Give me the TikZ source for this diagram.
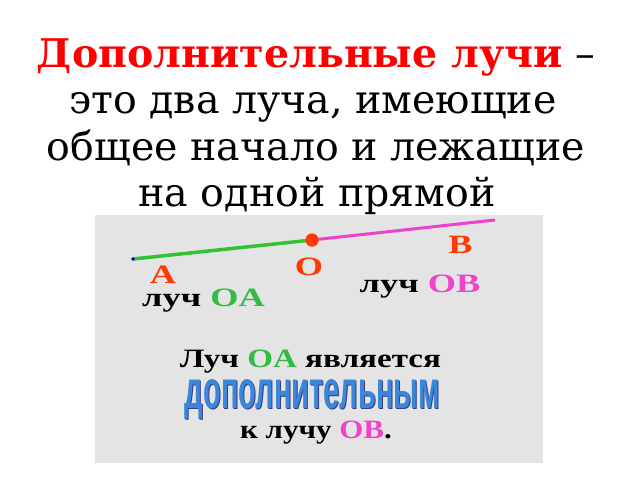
\documentclass[tikz,border=0pt]{standalone}
\usepackage{fontspec}
\setmainfont{DejaVu Serif}
\newfontfamily\timesb{Liberation Serif}[BoldFont={* Bold}]
\newfontfamily\narrowsans{Liberation Sans}
\definecolor{titlered}{HTML}{FF0000}
\definecolor{lblred}{HTML}{FF3A00}
\definecolor{raygreen}{HTML}{33C233}
\definecolor{txtgreen}{HTML}{33BB44}
\definecolor{raymag}{HTML}{F040D0}
\definecolor{txtmag}{HTML}{EE44CC}
\definecolor{bggray}{HTML}{E4E4E4}
\definecolor{waBlue}{HTML}{3A86DA}
\definecolor{waShadow}{HTML}{3A3F80}
\newcommand{\widelbl}[1]{\scalebox{1.37}[1]{#1}}
\newcommand{\wordart}{\scalebox{1.21}[2.24]{\narrowsans\bfseries\fontsize{24}{24}\selectfont дополнительным}}
\begin{document}
\begin{tikzpicture}[x=1pt,y=-1pt,
  titletext/.style={font=\fontsize{39.5}{44}\selectfont, anchor=base, inner sep=0pt},
  lbl/.style={font=\timesb\bfseries\fontsize{26.5}{30}\selectfont, anchor=base, inner sep=0pt},
  pointlbl/.style={lbl, text=lblred}]
\useasboundingbox (0,0) rectangle (640,480);
\fill[white] (0,0) rectangle (640,480);
% title
\node[titletext] (t1) at (316,67) {\textcolor{titlered}{\bfseries Дополнительные лучи} –};
\node[titletext] (t2) at (313,113) {это два луча, имеющие};
\node[titletext] (t3) at (316,160) {общее начало и лежащие};
\node[titletext] (t4) at (317,206) {на одной прямой};
% background panel
\fill[bggray] (95,215) rectangle (543,463);
% rays
\coordinate (A) at (133,259);
\coordinate (B) at (495,220);
\node[circle, fill=lblred, inner sep=0pt, minimum size=13pt] (O) at (312,240) {};
\draw[raygreen, line width=3.5pt] (A) -- (O.center);
\draw[raymag, line width=3pt] (O.center) -- (B);
\fill[blue!70!black] (A) circle (1.8pt);
\node[circle, fill=lblred, inner sep=0pt, minimum size=13pt] at (O) {};
% point labels
\node[pointlbl] (lA) at (163,283) {\widelbl{A}};
\node[pointlbl] (lO) at (309,275) {\widelbl{O}};
\node[pointlbl] (lB) at (460.5,253) {\widelbl{B}};
% ray labels
\node[lbl] (rOA) at (203.5,306) {\widelbl{луч \textcolor{txtgreen}{OA}}};
\node[lbl] (rOB) at (420,292) {\widelbl{луч \textcolor{txtmag}{OB}}};
% statement
\node[lbl] (s1) at (310.5,367) {\scalebox{1.25}[1]{Луч \textcolor{txtgreen}{OA} является}};
\node[anchor=base, inner sep=0pt, text=waShadow] (s2s) at (313.5,409.5) {\wordart};
\node[anchor=base, inner sep=0pt, text=waBlue] (s2) at (312.5,408) {\wordart};
\node[lbl] (s3) at (316,438) {\scalebox{1.17}[1]{к лучу \textcolor{txtmag}{OB}.}};
\end{tikzpicture}
\end{document}
